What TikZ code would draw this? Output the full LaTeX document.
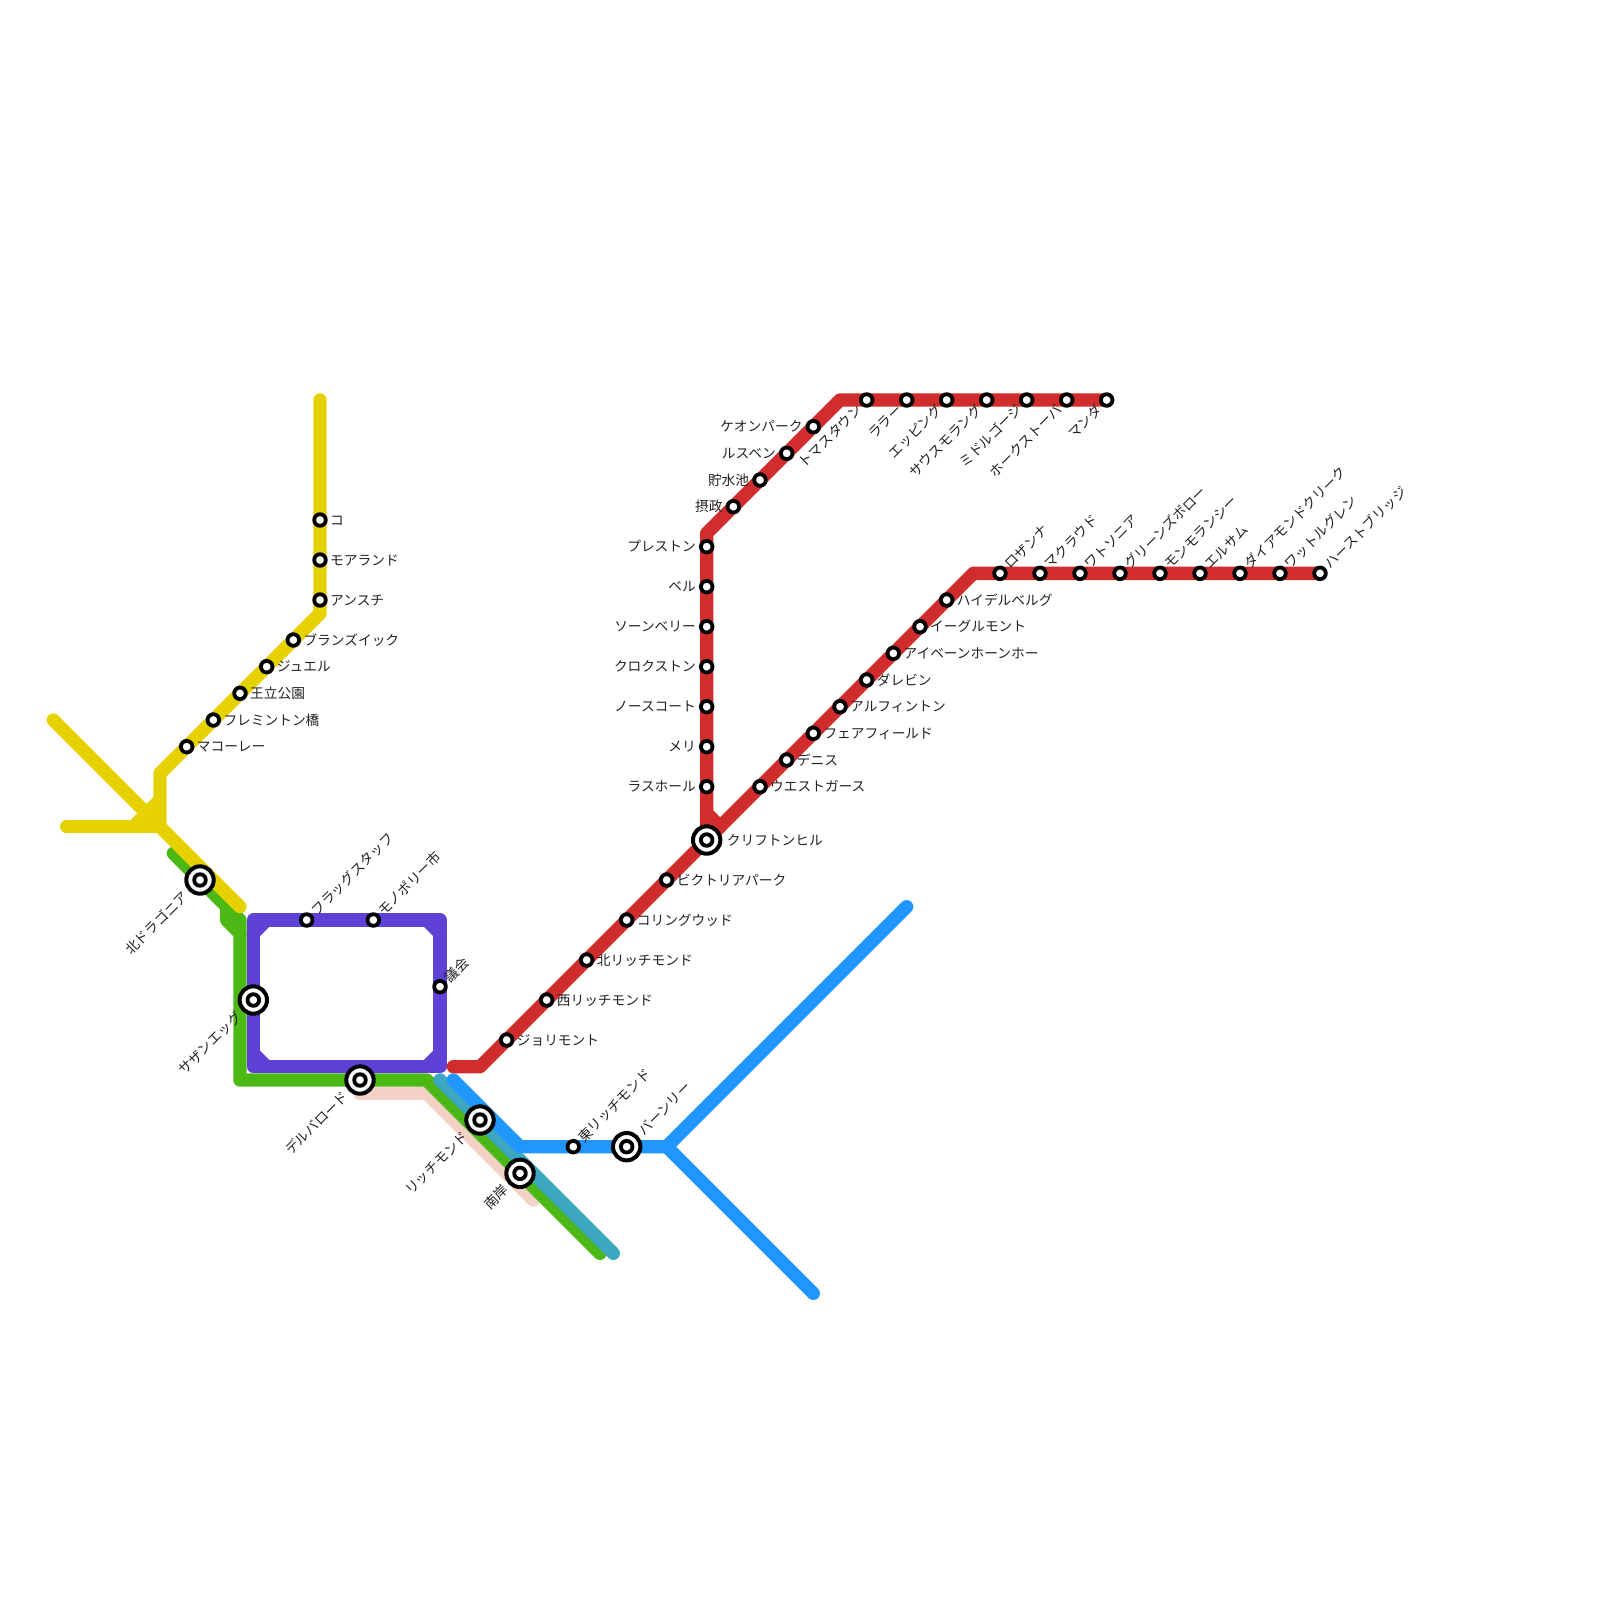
\documentclass[tikz,border=0pt]{standalone}
\usepackage{fontspec}
\setmainfont{Noto Sans CJK JP}
\usetikzlibrary{backgrounds}
\definecolor{cred}{HTML}{D12D2D}
\definecolor{cyellow}{HTML}{E5D200}
\definecolor{cgreen}{HTML}{4BB816}
\definecolor{cpurple}{HTML}{5E41D5}
\definecolor{cblue}{HTML}{2196FF}
\definecolor{cteal}{HTML}{3BA7C0}
\definecolor{cpink}{HTML}{F4D1C7}
\definecolor{ctext}{HTML}{222222}
\tikzset{
  x=1pt,y=-1pt,
  metro/.style={line width=13.33pt,line cap=round,line join=round},
  stn/.style={circle,draw=black,fill=white,line width=3.8pt,minimum size=11.6pt,inner sep=0pt},
  hub/.style={circle,draw=black,fill=white,line width=4pt,minimum size=27.4pt,inner sep=0pt},
  lab/.style={font=\fontsize{13.7pt}{14pt}\selectfont,text=ctext,inner sep=0pt,text height=11pt,text depth=1pt},
  labR/.style={lab,anchor=west,xshift=10pt},
  labL/.style={lab,anchor=east,xshift=-10.67pt},
  labUR/.style={lab,anchor=west,xshift=7pt,yshift=7pt,rotate=45},
  labDL/.style={lab,anchor=east,xshift=-7pt,yshift=-7pt,rotate=45},
  hubR/.style={lab,anchor=west,xshift=20pt},
  hubUR/.style={lab,anchor=west,xshift=14pt,yshift=14pt,rotate=45},
  hubDL/.style={lab,anchor=east,xshift=-14pt,yshift=-14pt,rotate=45},
}
% name, x, y, label style, text
\newcommand{\Sta}[5]{\node[stn] (#1) at (#2,#3) {}; \node[#4] (#1t) at (#2,#3) {#5};}
\newcommand{\Hub}[5]{\node[hub] (#1) at (#2,#3) {}; \node[stn] (#1i) at (#1.center) {}; \node[#4] (#1t) at (#2,#3) {#5};}
\begin{document}
\begin{tikzpicture}
\useasboundingbox (0,0) rectangle (1600,1600);
% corner points
\coordinate (y1) at (320,400);
\coordinate (y2) at (320,613.33);
\coordinate (y3) at (160,773.33);
\coordinate (y4) at (160,826.67);
\coordinate (y5) at (53.33,720);
\coordinate (y6) at (240,906.67);
\coordinate (y7) at (66.67,826.67);
\coordinate (y8) at (133.33,826.67);
\coordinate (y9) at (160,800);
\coordinate (g1) at (173.33,853.33);
\coordinate (g2) at (240,920);
\coordinate (g3) at (240,1080);
\coordinate (g4) at (426.67,1080);
\coordinate (g5) at (600,1253.33);
\coordinate (g6) at (226.67,906.67);
\coordinate (g7) at (226.67,920);
\coordinate (g8) at (240,933.33);
\coordinate (p1) at (253.33,920);
\coordinate (p2) at (440,920);
\coordinate (p3) at (440,1066.67);
\coordinate (p4) at (253.33,1066.67);
\coordinate (p5) at (253.33,933.33);
\coordinate (p6) at (266.67,920);
\coordinate (p7) at (426.67,920);
\coordinate (p8) at (440,933.33);
\coordinate (p9) at (440,1053.33);
\coordinate (p10) at (426.67,1066.67);
\coordinate (p11) at (253.33,1053.33);
\coordinate (p12) at (266.67,1066.67);
\coordinate (k2) at (426.67,1093.33);
\coordinate (k3) at (533.33,1200);
\coordinate (t1) at (440,1080);
\coordinate (t2) at (613.33,1253.33);
\coordinate (b1) at (453.33,1080);
\coordinate (b2) at (520,1146.67);
\coordinate (b3) at (666.67,1146.67);
\coordinate (b4) at (906.67,906.67);
\coordinate (b5) at (813.33,1293.33);
\coordinate (r1) at (453.33,1066.67);
\coordinate (r2) at (480,1066.67);
\coordinate (r3) at (973.33,573.33);
\coordinate (r4) at (706.67,533.33);
\coordinate (r5) at (840,400);
\coordinate (r6) at (706.67,813.33);
\coordinate (r7) at (720,826.67);
% red stations
\Sta{a1}{733.33}{506.67}{labL}{摂政}
\Sta{a2}{760}{480}{labL}{貯水池}
\Sta{a3}{786.67}{453.33}{labL}{ルスベン}
\Sta{a4}{813.33}{426.67}{labL}{ケオンパーク}
\Sta{b11}{866.67}{400}{labDL}{トマスタウン}
\Sta{b12}{906.67}{400}{labDL}{ララー}
\Sta{b13}{946.67}{400}{labDL}{エッピング}
\Sta{b14}{986.67}{400}{labDL}{サウスモラング}
\Sta{b15}{1026.67}{400}{labDL}{ミドルゴージ}
\Sta{b16}{1066.67}{400}{labDL}{ホークストーバ}
\Sta{b17}{1106.67}{400}{labDL}{マンダ}
\Sta{c1}{706.67}{546.67}{labL}{プレストン}
\Sta{c2}{706.67}{586.67}{labL}{ベル}
\Sta{c3}{706.67}{626.67}{labL}{ソーンベリー}
\Sta{c4}{706.67}{666.67}{labL}{クロクストン}
\Sta{c5}{706.67}{706.67}{labL}{ノースコート}
\Sta{c6}{706.67}{746.67}{labL}{メリ}
\Sta{c7}{706.67}{786.67}{labL}{ラスホール}
\Hub{hc}{706.67}{840}{hubR}{クリフトンヒル}
\Sta{d1}{666.67}{880}{labR}{ビクトリアパーク}
\Sta{d2}{626.67}{920}{labR}{コリングウッド}
\Sta{d3}{586.67}{960}{labR}{北リッチモンド}
\Sta{d4}{546.67}{1000}{labR}{西リッチモンド}
\Sta{d5}{506.67}{1040}{labR}{ジョリモント}
\Sta{e1}{760}{786.67}{labR}{ウエストガース}
\Sta{e2}{786.67}{760}{labR}{デニス}
\Sta{e3}{813.33}{733.33}{labR}{フェアフィールド}
\Sta{e4}{840}{706.67}{labR}{アルフィントン}
\Sta{e5}{866.67}{680}{labR}{ダレビン}
\Sta{e6}{893.33}{653.33}{labR}{アイベーンホーンホー}
\Sta{e7}{920}{626.67}{labR}{イーグルモント}
\Sta{e8}{946.67}{600}{labR}{ハイデルベルグ}
\Sta{f1}{1000}{573.33}{labUR}{ロザンナ}
\Sta{f2}{1040}{573.33}{labUR}{マクラウド}
\Sta{f3}{1080}{573.33}{labUR}{ワトソニア}
\Sta{f4}{1120}{573.33}{labUR}{グリーンズボロー}
\Sta{f5}{1160}{573.33}{labUR}{モンモランシー}
\Sta{f6}{1200}{573.33}{labUR}{エルサム}
\Sta{f7}{1240}{573.33}{labUR}{ダイアモンドクリーク}
\Sta{f8}{1280}{573.33}{labUR}{ワットルグレン}
\Sta{f9}{1320}{573.33}{labUR}{ハーストブリッジ}
% yellow stations
\Sta{h1}{320}{520}{labR}{コ}
\Sta{h2}{320}{560}{labR}{モアランド}
\Sta{h3}{320}{600}{labR}{アンスチ}
\Sta{h4}{293.33}{640}{labR}{ブランズイック}
\Sta{h5}{266.67}{666.67}{labR}{ジュエル}
\Sta{h6}{240}{693.33}{labR}{王立公園}
\Sta{h7}{213.33}{720}{labR}{フレミントン橋}
\Sta{h8}{186.67}{746.67}{labR}{マコーレー}
% loop stations
\Hub{hn}{200}{880}{hubDL}{北ドラゴニア}
\Hub{hs}{253.33}{1000}{hubDL}{サザンエッグ}
\Hub{hd}{360}{1080}{hubDL}{デルバロード}
\Sta{i1}{306.67}{920}{labUR}{フラッグスタッフ}
\Sta{i2}{373.33}{920}{labUR}{モノポリー市}
\Sta{i3}{440}{986.67}{labUR}{議会}
% lower stations
\Hub{hr}{480}{1120}{hubDL}{リッチモンド}
\Hub{hb}{520}{1173.33}{hubDL}{南岸}
\Sta{j1}{573.33}{1146.67}{labUR}{東リッチモンド}
\Hub{hu}{626.67}{1146.67}{hubUR}{バーンリー}
\begin{scope}[on background layer]
  \draw[metro,cpink] (hd.center) -- (hd.center |- k2) -- (k2) -- (k3);
  \draw[metro,cgreen] (g1) -- (g2) -- (g3) -- (g4) -- (g5);
  \draw[metro,cgreen] (g6) -- (g7) -- (g8);
  \draw[metro,cteal] (t1) -- (t2);
  \draw[metro,cblue] (b1) -- (b2) -- (b3) -- (b4);
  \draw[metro,cblue] (b3) -- (b5);
  \draw[metro,cyellow] (y1) -- (y2) -- (y3) -- (y4);
  \draw[metro,cyellow] (y5) -- (y6);
  \draw[metro,cyellow] (y7) -- (y4);
  \draw[metro,cyellow,line cap=butt] (y8) -- (y9);
  \draw[metro,cpurple] (p1) -- (p2) -- (p3) -- (p4) -- cycle;
  \draw[metro,cpurple,line cap=butt] (p5) -- (p6);
  \draw[metro,cpurple,line cap=butt] (p7) -- (p8);
  \draw[metro,cpurple,line cap=butt] (p9) -- (p10);
  \draw[metro,cpurple,line cap=butt] (p11) -- (p12);
  \draw[metro,cred] (r1) -- (r2) -- (r3) -- (f9.center);
  \draw[metro,cred] (b17.center) -- (r5) -- (r4) -- (r6) -- (r7);
  \draw[metro,cred] (r6) -- (hc.center);
\end{scope}
\end{tikzpicture}
\end{document}
